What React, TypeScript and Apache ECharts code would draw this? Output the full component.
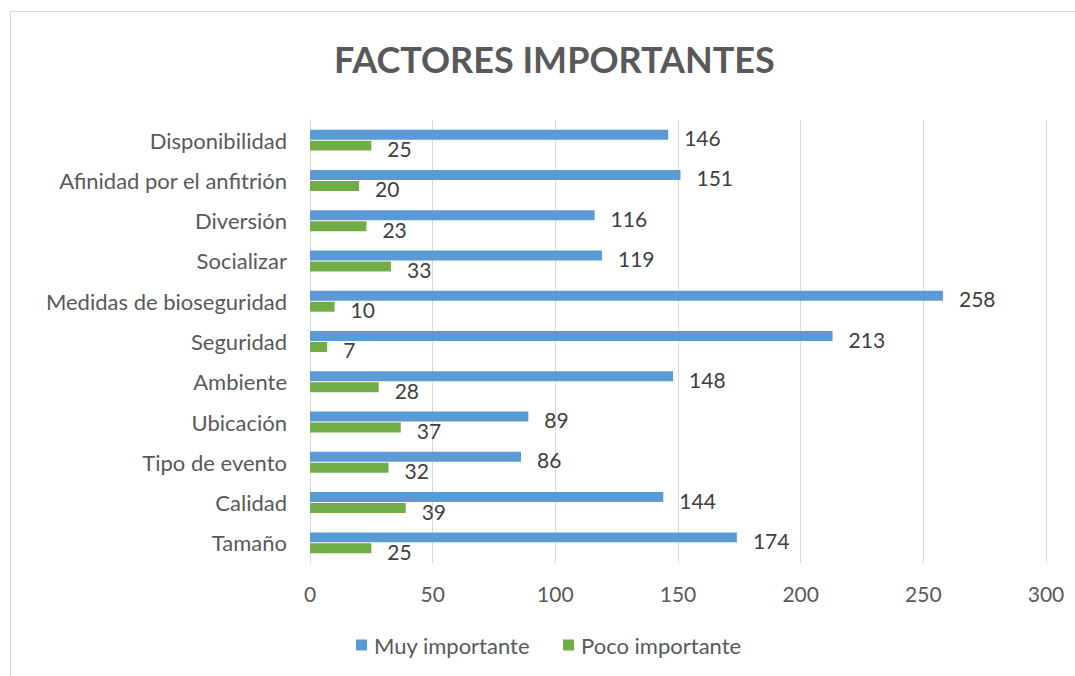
import React, { useEffect, useRef } from "react";
import * as echarts from "echarts";

const categories = [
  "Tamaño",
  "Calidad",
  "Tipo de evento",
  "Ubicación",
  "Ambiente",
  "Seguridad",
  "Medidas de bioseguridad",
  "Socializar",
  "Diversión",
  "Afinidad por el anfitrión",
  "Disponibilidad",
];
const muyImportante = [174, 144, 86, 89, 148, 213, 258, 119, 116, 151, 146];
const pocoImportante = [25, 39, 32, 37, 28, 7, 10, 33, 23, 20, 25];
const xTicks = { min: 0, max: 300, interval: 50 };

const FONT = "Lato, 'Open Sans', sans-serif";
const TEXT = "#595959";

export default function App() {
  const ref = useRef<HTMLDivElement>(null);
  useEffect(() => {
    document.body.style.margin = "0";
    const chart = echarts.init(ref.current!, null, { renderer: "svg" });
    const label = {
      show: true,
      position: "right" as const,
      distance: 16,
      offset: [0, 3],
      color: "#404040",
      fontSize: 21,
      fontFamily: FONT,
    };
    chart.setOption({
      animation: false,
      textStyle: { fontFamily: FONT },
      graphic: [
        {
          type: "rect",
          shape: { x: 10.5, y: 11.5, width: 1100, height: 700 },
          style: { fill: "none", stroke: "#D9D9D9", lineWidth: 1 },
          silent: true,
        },
      ],
      title: {
        text: "FACTORES IMPORTANTES",
        left: 329,
        top: 36,
        textStyle: { fontSize: 36, fontWeight: "bold", color: TEXT, fontFamily: FONT },
      },
      legend: {
        bottom: 15,
        left: 351,
        itemWidth: 11,
        itemHeight: 11,
        itemGap: 33,
        icon: "rect",
        textStyle: { fontSize: 22, color: TEXT, fontFamily: FONT, padding: [0, 0, 0, 2] },
        data: ["Muy importante", "Poco importante"],
      },
      grid: { left: 310, right: 29, top: 120, bottom: 113, containLabel: false },
      xAxis: {
        type: "value",
        min: xTicks.min,
        max: xTicks.max,
        interval: xTicks.interval,
        axisLine: { show: false },
        axisTick: { show: false },
        splitLine: { lineStyle: { color: "#D9D9D9", width: 1 } },
        axisLabel: { fontSize: 21, color: TEXT, margin: 20, fontFamily: FONT },
      },
      yAxis: {
        type: "category",
        data: categories,
        axisLine: { show: true, lineStyle: { color: "#D9D9D9" } },
        axisTick: { show: false },
        axisLabel: { fontSize: 22, color: TEXT, margin: 23, fontFamily: FONT },
      },
      series: [
        {
          name: "Muy importante",
          type: "bar",
          data: muyImportante,
          itemStyle: { color: "#5B9BD5" },
          barGap: "10%",
          barCategoryGap: "48%",
          label,
        },
        {
          name: "Poco importante",
          type: "bar",
          data: pocoImportante,
          itemStyle: { color: "#70AD47" },
          barGap: "10%",
          barCategoryGap: "48%",
          label,
        },
      ],
    });
    return () => chart.dispose();
  }, []);
  return <div ref={ref} style={{ width: 1075, height: 676 }} />;
}
